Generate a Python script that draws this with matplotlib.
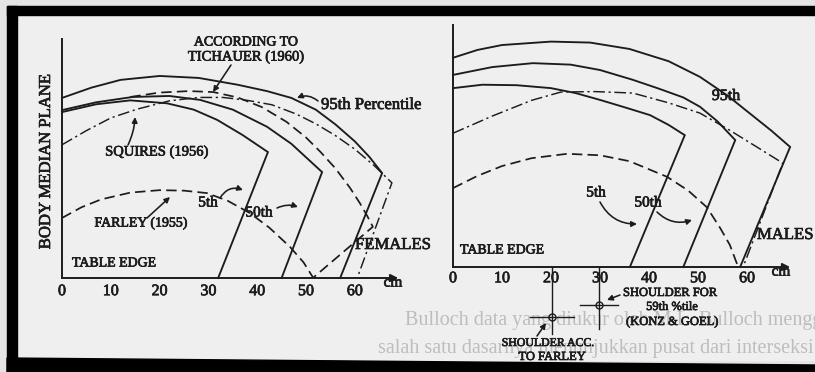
import matplotlib
matplotlib.use("Agg")
import matplotlib.pyplot as plt
import matplotlib.patheffects as pe
from matplotlib.patches import Rectangle, Polygon

INK = '#1c1c1c'
SERIF = ['Liberation Serif', 'DejaVu Serif']
HEAVY = [pe.withStroke(linewidth=0.5, foreground=INK)]

# ---- FEMALES (left panel), values in cm ----
f95_x = [0, 6, 12, 20, 28, 36, 42, 47, 52, 56, 60, 63, 65.6, 57]
f95_y = [36.9, 39.0, 40.6, 41.4, 41.0, 39.6, 38.3, 36.9, 34.5, 31.5, 28.0, 24.8, 21.5, 0]
f50_x = [0, 7, 14.5, 22, 28.3, 35, 42, 47, 53.3, 45]
f50_y = [34.4, 36.0, 37.1, 37.3, 36.5, 34.5, 31.0, 27.5, 21.7, 0]
f05_x = [0, 7, 14, 21.5, 27, 31.8, 37, 42.2, 32]
f05_y = [34.0, 35.6, 36.4, 35.8, 34.5, 32.4, 29.3, 25.8, 0]
f_tich_x = [14, 20, 26, 31, 36, 41, 46, 50, 53, 56, 59, 61, 62.5, 63.7, 51.4]
f_tich_y = [37.1, 38.0, 38.3, 38.1, 37.0, 35.0, 32.0, 28.8, 25.8, 22.5, 18.5, 15.4, 12.8, 10.5, 0]
f_squi_x = [0, 5, 10, 15.4, 22, 28, 33, 38, 43, 48, 52, 56, 60, 64, 67.6, 60.5]
f_squi_y = [27.3, 30.2, 32.8, 34.6, 36.3, 37.0, 37.0, 36.4, 35.5, 33.6, 31.6, 29.2, 26.4, 23.0, 19.5, 0]
f_farl_x = [0, 4, 8, 14, 20, 25, 29.7, 34, 38.5, 42.5, 46.7, 49.5, 51.5]
f_farl_y = [12.3, 14.5, 16.1, 17.5, 18.0, 17.9, 17.4, 15.8, 13.3, 10.3, 6.4, 3.2, 0]

# ---- MALES (right panel), values in cm ----
m95_x = [0, 5, 10, 20, 28, 36, 44, 50.4, 56, 61, 65, 68.8, 58.6]
m95_y = [42.7, 44.3, 45.3, 46.0, 45.8, 44.5, 42.0, 38.8, 35.0, 31.0, 27.8, 24.5, 0]
m50_x = [0, 8, 16.3, 24, 30, 36.7, 42, 47, 50.4, 54, 57.6, 47]
m50_y = [39.2, 40.8, 41.6, 41.3, 40.2, 38.2, 36.4, 34.6, 32.7, 29.7, 25.9, 0]
m05_x = [0, 6, 13, 20, 25, 30, 35, 40.2, 44, 47.3, 36.1]
m05_y = [36.5, 37.2, 37.1, 36.5, 35.5, 34.1, 32.6, 31.0, 29.0, 26.9, 0]
m_squi_x = [0, 8, 16, 22, 29, 36.7, 44, 50.4, 56, 62, 67.3, 59.2]
m_squi_y = [27.3, 30.8, 34.0, 35.7, 35.8, 35.5, 33.5, 31.4, 28.2, 24.5, 21.2, 0]
m_farl_x = [0, 5, 10, 16, 23.3, 30, 36, 43.7, 48, 51.8, 54.5, 56.5, 58.2]
m_farl_y = [16.1, 18.6, 20.6, 22.2, 23.1, 22.8, 21.6, 18.4, 15.6, 12.2, 8.0, 4.5, 0]

# shoulder reference points (right panel, cm)
shoulder_x = [20.2, 29.8]
shoulder_y = [-10.2, -7.8]

ticks = [0, 10, 20, 30, 40, 50, 60]

W, H = 815, 372
fig = plt.figure(figsize=(W / 100, H / 100), dpi=100)
fig.patch.set_facecolor('#e4e4e4')

# background / frame in pixel coordinates
bg = fig.add_axes([0, 0, 1, 1])
bg.set_xlim(0, W)
bg.set_ylim(H, 0)
bg.axis('off')
bg.add_patch(Rectangle((17, 15), W - 17, 345, color='#efeff0', zorder=0))
bg.add_patch(Rectangle((7, 6), W - 7, 9, color='black', zorder=1))
bg.add_patch(Rectangle((7, 6), 10, H - 6, color='black', zorder=1))
bg.add_patch(Polygon([(7, 358), (W, 365), (W, H), (7, H)], color='black', zorder=1))

# faint print showing through the page
bg.text(405, 320, 'Bulloch data yang diukur oleh M.L. Bulloch menggunakan', family=SERIF,
        fontsize=14.5, color='#bdbdbd', va='center', zorder=0.5, clip_on=True)
bg.text(378, 348, 'salah satu dasarnya menunjukkan pusat dari interseksi tempat', family=SERIF,
        fontsize=14.5, color='#bdbdbd', va='center', zorder=0.5, clip_on=True)


def panel(px_left, px_right, x0, y0, s):
    top, bottom = 15, 358
    ax = fig.add_axes([px_left / W, 1 - bottom / H, (px_right - px_left) / W, (bottom - top) / H])
    ax.set_xlim((px_left - x0) / s, (px_right - x0) / s)
    ax.set_ylim((y0 - bottom) / s, (y0 - top) / s)
    ax.axis('off')
    ax.patch.set_alpha(0)
    return ax


def draw_axes(ax, ymax, xarrow, label_y):
    ax.plot([0, 0], [0, ymax], color=INK, lw=1.4)
    ax.annotate('', xy=(xarrow, 0), xytext=(0, 0),
                arrowprops=dict(arrowstyle='-|>', color=INK, lw=1.4, mutation_scale=11,
                                shrinkA=0, shrinkB=0))
    for t in ticks:
        ax.text(t, label_y, str(t), family=SERIF, fontsize=11.5, color=INK,
                ha='center', va='center', path_effects=HEAVY)


solid = dict(color=INK, lw=1.35, solid_joinstyle='miter')
dashed = dict(color=INK, lw=1.25, dashes=(6, 3))
dashdot = dict(color=INK, lw=1.05, dashes=(8, 2.5, 1.5, 2.5))

axl = panel(17, 445, 62, 278, 4.88)
draw_axes(axl, 49, 68.9, -2.7)
axl.plot(f95_x, f95_y, **solid)
axl.plot(f50_x, f50_y, **solid)
axl.plot(f05_x, f05_y, **solid)
axl.plot(f_tich_x, f_tich_y, **dashed)
axl.plot(f_squi_x, f_squi_y, **dashdot)
axl.plot(f_farl_x, f_farl_y, **dashed)

axr = panel(445, 815, 453, 267, 4.9)
draw_axes(axr, 49.4, 68.8, -2.3)
axr.plot(m95_x, m95_y, **solid)
axr.plot(m50_x, m50_y, **solid)
axr.plot(m05_x, m05_y, **solid)
axr.plot(m_squi_x, m_squi_y, **dashdot)
axr.plot(m_farl_x, m_farl_y, **dashed)

# shoulder crosshairs
for sx, sy, arm, low in zip(shoulder_x, shoulder_y, [4.4, 3.9], [-13.6, -12.6]):
    axr.plot([sx - arm, sx + arm], [sy, sy], color=INK, lw=1.0)
    axr.plot([sx, sx], [0, low], color=INK, lw=1.0)
axr.plot(shoulder_x, shoulder_y, 'o', ms=5, mfc='none', mec=INK, mew=1.0, ls='none')


# ---- labels (pixel coordinates) ----
def txt(x, y, s, size=8.5, **kw):
    bg.text(x, y, s, family=SERIF, fontsize=size, color=INK, zorder=5,
            path_effects=HEAVY, **kw)


txt(46, 162, 'BODY MEDIAN PLANE', 12, rotation=90, ha='center', va='center')
txt(246, 42, 'ACCORDING TO', 10, ha='center', va='center')
txt(246, 57, 'TICHAUER (1960)', 10.5, ha='center', va='center')
txt(321, 105, '95th Percentile', 12, ha='left', va='center')
txt(157, 152, 'SQUIRES (1956)', 10.5, ha='center', va='center')
txt(141, 223, 'FARLEY (1955)', 10, ha='center', va='center')
txt(208, 203, '5th', 11, ha='center', va='center')
txt(259, 213, '50th', 11, ha='center', va='center')
txt(355, 245, 'FEMALES', 12, ha='left', va='center')
txt(72, 263, 'TABLE EDGE', 10, ha='left', va='center')
txt(393, 283, 'cm', 11, ha='center', va='center')

txt(726, 96, '95th', 11.5, ha='center', va='center')
txt(596, 193, '5th', 11, ha='center', va='center')
txt(648, 203, '50th', 11, ha='center', va='center')
txt(757, 235, 'MALES', 12, ha='left', va='center')
txt(460, 250, 'TABLE EDGE', 10, ha='left', va='center')
txt(781, 272, 'cm', 11, ha='center', va='center')
txt(623, 293, 'SHOULDER FOR', 9, ha='left', va='center')
txt(672, 307, '59th %tile', 9, ha='center', va='center')
txt(672, 322, '(KONZ & GOEL)', 9, ha='center', va='center')
txt(548, 343, 'SHOULDER ACC.', 8.5, ha='center', va='center')
txt(552, 357, 'TO FARLEY', 9, ha='center', va='center')

arrows = [
    ((231, 65), (213, 92), 0.0),
    ((318, 101), (297, 98), 0.3),
    ((128, 145), (135, 117), 0.1),
    ((147, 218), (170, 197), 0.0),
    ((220, 198), (243, 190), -0.4),
    ((277, 208), (298, 207), -0.2),
    ((600, 202), (637, 224), 0.3),
    ((657, 212), (692, 220), 0.3),
    ((620, 295), (607, 300), 0.0),
    ((537, 336), (546, 323), 0.0),
]
for start, end, rad in arrows:
    bg.annotate('', xy=end, xytext=start, zorder=5,
                arrowprops=dict(arrowstyle='-|>', color=INK, lw=1.15, mutation_scale=8,
                                connectionstyle=f'arc3,rad={rad}', shrinkA=0, shrinkB=0))

fig.savefig('out.png', dpi=100, facecolor=fig.get_facecolor())
